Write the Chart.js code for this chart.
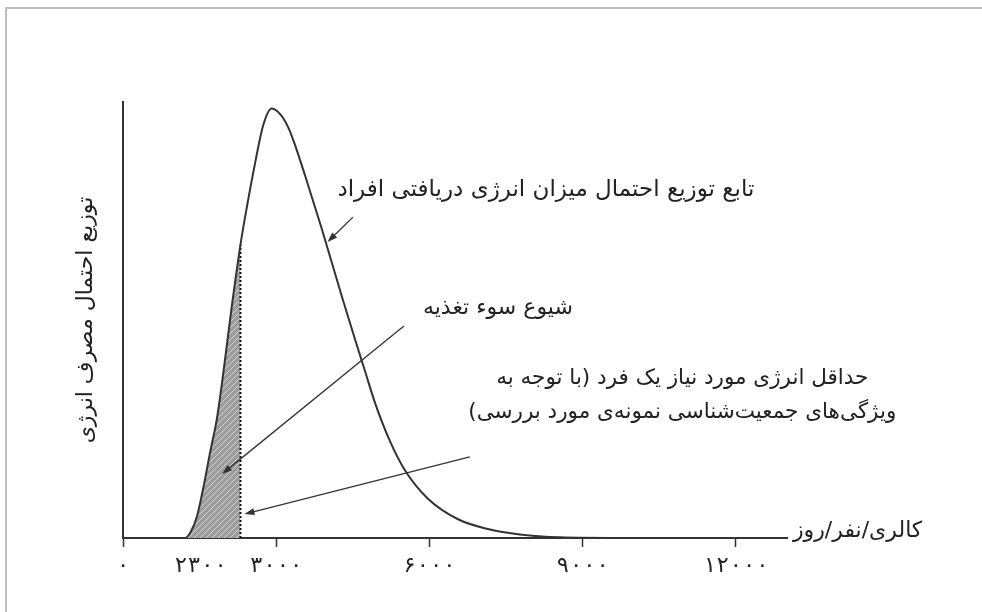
<!DOCTYPE html>
<html lang="fa">
<head>
<meta charset="utf-8">
<title>توزیع احتمال انرژی دریافتی</title>
<script src="https://cdn.jsdelivr.net/npm/chart.js@4.4.1/dist/chart.umd.min.js"></script>
<style>
  html, body { margin: 0; padding: 0; background: #fff; }
  #frame { position: absolute; left: 5px; top: 7px; width: 977px; height: 605px; border-top: 2px solid #bdbdbd; border-left: 2px solid #bdbdbd; box-sizing: border-box; }
  #chart { position: absolute; left: 0; top: 0; }
</style>
</head>
<body>
<div id="frame"></div>
<canvas id="chart" width="982" height="612"></canvas>
<script>
// energy intake (kcal/person/day) and probability density (relative, peak ~100)
var energyValues = [0, 1214, 1330, 1449, 1586, 1703, 1840, 1938, 2036, 2134, 2300, 2428, 2590, 2741, 2911, 3093, 3230, 3348, 3563, 3890, 4282, 4542, 4738, 4934, 5227, 5501, 5971, 6559, 7166, 7773, 8556, 9730, 13000];
var densityValues = [0, 0, 1.5, 5, 12.3, 19.5, 27.5, 35.5, 44.5, 53.5, 67.3, 76.1, 86.2, 94.5, 98.5, 97, 94.3, 90.8, 83.2, 71, 55.5, 45.6, 38.3, 31, 22.2, 15.9, 9, 4.3, 2, 0.8, 0.15, 0, 0];
var tickValues = [0, 2300, 3000, 6000, 9000, 12000];
var tickLabels = ['۰', '۲۳۰۰', '۳۰۰۰', '۶۰۰۰', '۹۰۰۰', '۱۲۰۰۰'];
var minEnergy = 2300;

var curveLabel = 'تابع توزیع احتمال میزان انرژی دریافتی افراد';
var malnutritionLabel = 'شیوع سوء تغذیه';
var minEnergyLabel = ['حداقل انرژی مورد نیاز یک فرد (با توجه به', 'ویژگی‌های جمعیت‌شناسی نمونه‌ی مورد بررسی)'];
var xTitle = 'کالری/نفر/روز';
var yTitle = 'توزیع احتمال مصرف انرژی';

var ink = '#333';
var fontFamily = '"DejaVu Sans", sans-serif';

var curvePoints = energyValues.map(function(x, i) { return { x: x, y: densityValues[i] }; });
var shadedPoints = curvePoints.filter(function(p) { return p.x <= minEnergy; });
var minEnergyDensity = densityValues[energyValues.indexOf(minEnergy)];

function hatchPattern() {
  var c = document.createElement('canvas');
  c.width = 6; c.height = 6;
  var g = c.getContext('2d');
  g.fillStyle = '#9d9d9d';
  g.fillRect(0, 0, 6, 6);
  g.strokeStyle = '#d0d0d0';
  g.lineWidth = 1;
  g.beginPath();
  g.moveTo(-1, 7); g.lineTo(7, -1);
  g.stroke();
  return g.createPattern(c, 'repeat');
}

// text notes and arrows, anchored in data units
var notes = [
  { text: [curveLabel], x: 8280, y: 79.8, size: 23 },
  { text: [malnutritionLabel], x: 7340, y: 52.75, size: 22 },
  { text: minEnergyLabel, x: 10950, y: 36.7, size: 21.5, gap: 34 }
];
var arrows = [
  { from: [4503, 73.6], to: [3965, 67.9], nudge: 2 },
  { from: [5500, 48.6], to: [1940, 14.7], nudge: 0 },
  { from: [6790, 18.6], to: [minEnergy, 5.5], nudge: 4 }
];

var annotate = {
  id: 'annotate',
  afterDraw: function(chart) {
    var ctx = chart.ctx, xs = chart.scales.x, ys = chart.scales.y;
    ctx.save();
    ctx.fillStyle = '#222';
    ctx.direction = 'rtl';
    ctx.textAlign = 'center';
    ctx.textBaseline = 'middle';
    notes.forEach(function(n) {
      ctx.font = n.size + 'px ' + fontFamily;
      var px = xs.getPixelForValue(n.x), py = ys.getPixelForValue(n.y);
      n.text.forEach(function(line, i) { ctx.fillText(line, px, py + i * (n.gap || 0)); });
    });
    ctx.font = '22px ' + fontFamily;
    ctx.textAlign = 'left';
    ctx.fillText(xTitle, chart.chartArea.right + 6, chart.chartArea.bottom - 7);

    ctx.strokeStyle = ink;
    ctx.fillStyle = ink;
    ctx.lineWidth = 1.3;
    arrows.forEach(function(a) {
      var x1 = xs.getPixelForValue(a.from[0]), y1 = ys.getPixelForValue(a.from[1]);
      var x2 = xs.getPixelForValue(a.to[0]) + a.nudge, y2 = ys.getPixelForValue(a.to[1]);
      var ang = Math.atan2(y2 - y1, x2 - x1), c = Math.cos(ang), s = Math.sin(ang);
      ctx.beginPath();
      ctx.moveTo(x1, y1);
      ctx.lineTo(x2 - 6 * c, y2 - 6 * s);
      ctx.stroke();
      ctx.beginPath();
      ctx.moveTo(x2, y2);
      ctx.lineTo(x2 - 10 * c + 3.5 * s, y2 - 10 * s - 3.5 * c);
      ctx.lineTo(x2 - 10 * c - 3.5 * s, y2 - 10 * s + 3.5 * c);
      ctx.closePath();
      ctx.fill();
    });
    ctx.restore();
  }
};

new Chart(document.getElementById('chart'), {
  type: 'line',
  data: {
    datasets: [
      { data: curvePoints, borderColor: ink, borderWidth: 2, pointRadius: 0, fill: false, cubicInterpolationMode: 'monotone' },
      { data: [{ x: minEnergy, y: 0 }, { x: minEnergy, y: minEnergyDensity }], borderColor: '#111', borderWidth: 2, borderDash: [2, 2], pointRadius: 0, fill: false },
      { data: shadedPoints, borderWidth: 0, pointRadius: 0, fill: 'origin', backgroundColor: hatchPattern(), cubicInterpolationMode: 'monotone' }
    ]
  },
  options: {
    responsive: false,
    animation: false,
    layout: { padding: { left: 70, top: 102, right: 195, bottom: 34 } },
    plugins: { legend: { display: false }, tooltip: { enabled: false } },
    scales: {
      x: {
        type: 'linear', min: 0, max: 13000,
        afterBuildTicks: function(s) { s.ticks = tickValues.map(function(v) { return { value: v }; }); },
        afterFit: function(s) { s.height = 40; },
        ticks: {
          autoSkip: false, maxRotation: 0, padding: 6, color: '#222',
          font: { family: '"DejaVu Sans Mono", "DejaVu Sans", monospace', size: 22 },
          // the threshold label sits just left of its tick, as in the printed figure
          callback: function(v, i) { return v === minEnergy ? tickLabels[i] + '      ' : tickLabels[i]; }
        },
        grid: {
          drawOnChartArea: false, drawTicks: true, tickLength: 9, tickWidth: 1.5,
          tickColor: function(c) { return c.tick && c.tick.value === minEnergy ? 'rgba(0,0,0,0)' : ink; }
        },
        border: { color: ink, width: 2 }
      },
      y: {
        min: 0, max: 100,
        afterFit: function(s) { s.width = 53; },
        ticks: { display: false },
        grid: { display: false },
        border: { color: ink, width: 2 },
        title: { display: true, text: yTitle, color: '#222', font: { family: fontFamily, size: 22 }, padding: { top: 3, bottom: 0 } }
      }
    }
  },
  plugins: [annotate]
});
</script>
</body>
</html>
